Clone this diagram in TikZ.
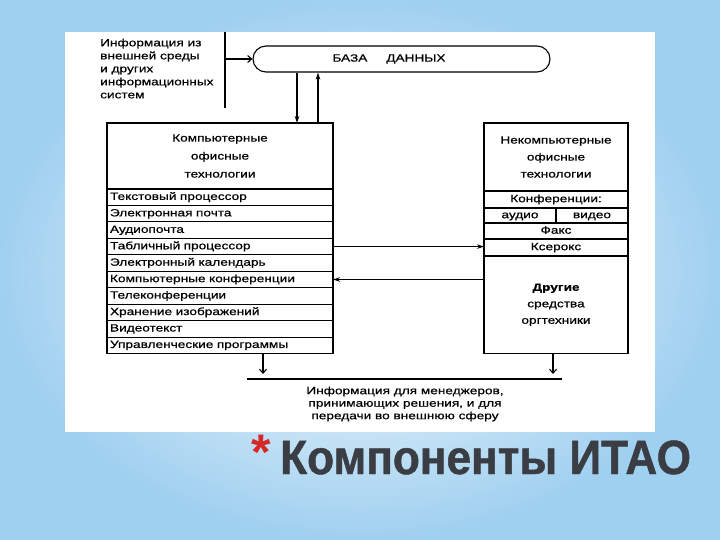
\documentclass[tikz,border=0pt]{standalone}
\usepackage{fontspec}
\setmainfont{Liberation Sans}
\newfontfamily\schemefont[FakeStretch=1.3,FakeBold=0.6]{Liberation Sans}
\newfontfamily\titlefont[FakeStretch=0.92,FakeBold=1]{Liberation Sans}
\usetikzlibrary{arrows.meta,positioning,shapes.misc}
\definecolor{slideblue}{RGB}{160,208,240}
\definecolor{titlegray}{RGB}{58,62,68}
\definecolor{starred}{RGB}{215,40,40}
\tikzset{>=Stealth,every node/.style={font=\schemefont\fontsize{10.5}{13}\selectfont},
 flow/.style={line width=1.1pt,-{Stealth[length=7pt,width=4.5pt]}},
 drop/.style={line width=1.1pt,-{Straight Barb[length=4pt,width=7pt]}},
 edge/.style={line width=1.1pt},
 cell/.style={draw,line width=1.1pt,inner sep=0pt,outer sep=0pt},
 lrow/.style={cell,minimum width=226,minimum height=16.45,text width=220,align=left,text height=7.6pt,text depth=2.2pt},
 rrow/.style={cell,minimum width=144,align=center,text height=7.6pt,text depth=2.2pt}}

\begin{document}
\begin{tikzpicture}[x=1pt,y=-1pt]
\useasboundingbox (0,0) rectangle (720,540);
% slide background
\shade[inner color=white,outer color=slideblue] (0,0) rectangle (720,540);
\fill[white] (65,32) rectangle (655,432);
% source and database
\node[anchor=north west,align=left,inner sep=0pt] (src) at (100,38.5) {Информация из\\внешней среды\\и других\\информационных\\систем};
\coordinate (wallT) at (225,32);\coordinate (wallB) at (225,108);
\draw[edge] (wallT)--(wallB);
\node[draw,line width=1.1pt,rounded rectangle,minimum width=297,minimum height=26,inner sep=0pt] (db) at (401.5,59) {};
\node (dbtxt) at (389,59) {БАЗА\hspace{1.8em}ДАННЫХ};
\draw[drop] (wallT|-db.west)--(db.west);
% computer office technologies
\node[cell,anchor=north west,minimum width=226,minimum height=66,align=center,font=\schemefont\fontsize{10.5}{18}\selectfont] (lhead) at (107,123) {Компьютерные\\офисные\\технологии};
\node[lrow,below=0pt of lhead] (l1) {Текстовый процессор};
\node[lrow,below=0pt of l1] (l2) {Электронная почта};
\node[lrow,below=0pt of l2] (l3) {Аудиопочта};
\node[lrow,below=0pt of l3] (l4) {Табличный процессор};
\node[lrow,below=0pt of l4] (l5) {Электронный календарь};
\node[lrow,below=0pt of l5] (l6) {Компьютерные конференции};
\node[lrow,below=0pt of l6] (l7) {Телеконференции};
\node[lrow,below=0pt of l7] (l8) {Хранение изображений};
\node[lrow,below=0pt of l8] (l9) {Видеотекст};
\node[lrow,below=0pt of l9] (l10) {Управленческие программы};
\draw[flow] ([xshift=77pt]lhead.north|-db.south)--([xshift=77pt]lhead.north);
\draw[flow] ([xshift=98pt]lhead.north)--([xshift=98pt]lhead.north|-db.south);
% non-computer office technologies
\node[cell,anchor=north west,minimum width=144,minimum height=68,align=center,font=\schemefont\fontsize{10.5}{17}\selectfont] (rhead) at (484,123) {Некомпьютерные\\офисные\\технологии};
\node[rrow,minimum height=17,below=0pt of rhead] (rconf) {Конференции:};
\node[rrow,minimum width=72,minimum height=15,anchor=north west] (raud) at (rconf.south west) {аудио};
\node[rrow,minimum width=72,minimum height=15,anchor=north east] (rvid) at (rconf.south east) {видео};
\node[rrow,minimum height=16,anchor=north west] (rfax) at (raud.south west) {Факс};
\node[rrow,minimum height=17,below=0pt of rfax] (rxer) {Ксерокс};
\node[cell,minimum width=144,minimum height=97.5,below=0pt of rxer,align=center,font=\schemefont\fontsize{10.5}{16.5}\selectfont] (roth) {\textbf{Другие}\\средства\\оргтехники};
\draw[flow] (l4.east)--(l4.east-|roth.west);
\draw[flow] (l6.east-|roth.west)--(l6.east);
% output
\coordinate (busL) at (247,379);\coordinate (busR) at (562,379);
\draw[edge] (busL)--(busR);
\coordinate (lout) at (263,374);\coordinate (rout) at (553,374);
\draw[drop] (l10.south-|lout)--(lout);
\draw[drop] (roth.south-|rout)--(rout);
\node[align=center,font=\schemefont\fontsize{10.5}{12.5}\selectfont] (mgr) at (405,404) {Информация для менеджеров,\\принимающих решения, и для\\передачи во внешнюю сферу};
% title
\node[anchor=base,inner sep=0pt,text=starred,font=\bfseries\fontsize{50}{50}\selectfont] (ast) at (261,469) {*};
\node[anchor=base west,inner sep=0pt,text=titlegray,font=\titlefont\bfseries\fontsize{48}{48}\selectfont] (title) at (280,474) {Компоненты ИТАО};
\end{tikzpicture}
\end{document}
